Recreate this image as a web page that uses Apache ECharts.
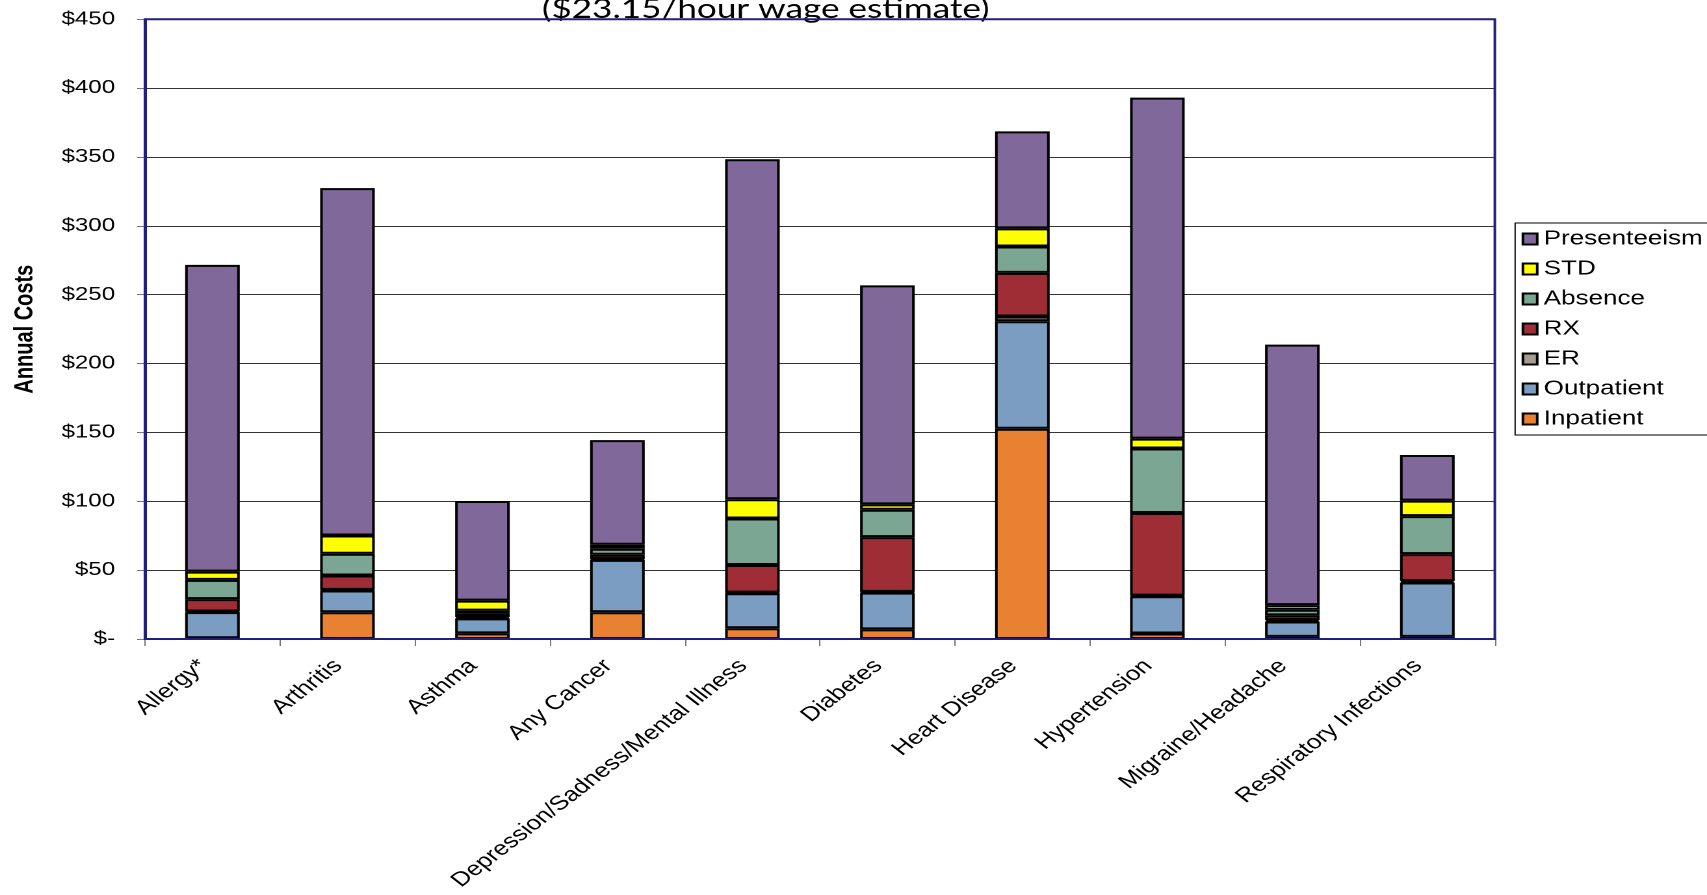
<!DOCTYPE html>
<html>
<head>
<meta charset="utf-8">
<script src="https://cdn.jsdelivr.net/npm/echarts@6/dist/echarts.min.js"></script>
<style>
html,body{margin:0;padding:0;background:#fff;overflow:hidden;width:1707px;height:895px;}
#wrap{position:absolute;left:0;top:0;width:1313px;height:895px;transform:scaleX(1.30008);transform-origin:0 0;}
</style>
</head>
<body>
<div id="wrap"></div>
<script>
const categories = ['Allergy*','Arthritis','Asthma','Any Cancer','Depression/Sadness/Mental Illness','Diabetes','Heart Disease','Hypertension','Migraine/Headache','Respiratory Infections'];
const inpatient    = [0.5, 19.4, 4.1, 19.4, 7.8, 7.0, 152.7, 4.0, 1.5, 1.5];
const outpatient   = [19.0, 15.8, 10.9, 38.1, 25.4, 26.7, 78.0, 27.0, 11.2, 39.5];
const er           = [0.5, 0.5, 1.0, 0.5, 0.5, 0.5, 3.5, 0.5, 1.0, 1.0];
const rx           = [9.0, 10.4, 2.2, 3.2, 20.0, 39.8, 31.7, 60.0, 3.5, 19.6];
const absence      = [13.9, 15.8, 2.4, 4.3, 33.8, 19.9, 19.1, 46.8, 4.0, 27.6];
const std          = [6.0, 13.3, 7.3, 2.9, 14.0, 3.9, 13.2, 7.2, 3.4, 11.3];
const presenteeism = [222.8, 252.2, 72.3, 76.0, 246.9, 159.0, 70.4, 247.6, 189.2, 33.1];
const yTicks = [0, 50, 100, 150, 200, 250, 300, 350, 400, 450];
const titleText = '($23.15/hour wage estimate)';
const legendOrder = ['Presenteeism','STD','Absence','RX','ER','Outpatient','Inpatient'];

const seriesDefs = [
  ['Inpatient', inpatient, '#e88232'],
  ['Outpatient', outpatient, '#7b9dc2'],
  ['ER', er, '#a59d8d'],
  ['RX', rx, '#9e2d36'],
  ['Absence', absence, '#7ca694'],
  ['STD', std, '#ffff00'],
  ['Presenteeism', presenteeism, '#80689a']
];

const chart = echarts.init(document.getElementById('wrap'), null, {renderer:'canvas', devicePixelRatio:2});
const FONT = 'Liberation Sans, Arial, sans-serif';
chart.setOption({
  animation: false,
  backgroundColor: '#fff',
  graphic: [{
    type: 'text', z: 0,
    style: {text: titleText, x: 589, y: 23, align: 'center', verticalAlign: 'bottom',
      fontSize: 27, fontFamily: 'Lato, Carlito, sans-serif', fill: '#000'}
  }],
  grid: {left: 111.5, right: 163.2, top: 19.3, bottom: 256, show: true,
    borderColor: '#1f1f7f', borderWidth: 2, containLabel: false, outerBoundsMode: 'none', z: 3},
  legend: {
    orient: 'vertical', left: 1165.4, top: 223, padding: [6, 40, 6, 5],
    itemWidth: 11, itemHeight: 11, itemGap: 10, icon: 'rect',
    borderColor: '#000', borderWidth: 1,
    textStyle: {fontSize: 20, fontFamily: FONT, color: '#000', lineHeight: 20},
    data: legendOrder
  },
  xAxis: {
    type: 'category', data: categories, boundaryGap: true,
    axisLine: {show: true, lineStyle: {color: '#1f1f7f', width: 2}},
    axisTick: {show: true, length: 7, lineStyle: {color: '#777', width: 1}},
    axisLabel: {rotate: 45, interval: 0, fontSize: 20, fontFamily: FONT, color: '#000', margin: 31, verticalAlign: 'bottom'},
    splitLine: {show: false}
  },
  yAxis: {
    type: 'value', min: yTicks[0], max: yTicks[yTicks.length - 1], interval: yTicks[1] - yTicks[0],
    axisLine: {show: true, lineStyle: {color: '#1f1f7f', width: 2}},
    axisTick: {show: true, length: 6, lineStyle: {color: '#777', width: 1}},
    axisLabel: {formatter: v => v === 0 ? '$-' : '$' + v, fontSize: 18.5, fontFamily: FONT, color: '#000', margin: 23},
    splitLine: {show: true, lineStyle: {color: '#333', width: 1}},
    name: 'Annual Costs', nameLocation: 'middle', nameGap: 82,
    nameTextStyle: {fontWeight: 'bold', fontSize: 20, fontFamily: FONT, color: '#000'}
  },
  series: seriesDefs.map(([name, data, color]) => ({
    name, type: 'bar', stack: 'total', data, barWidth: 42,
    itemStyle: {color, borderColor: '#000', borderWidth: 2},
    emphasis: {disabled: true}
  }))
});
</script>
</body>
</html>
